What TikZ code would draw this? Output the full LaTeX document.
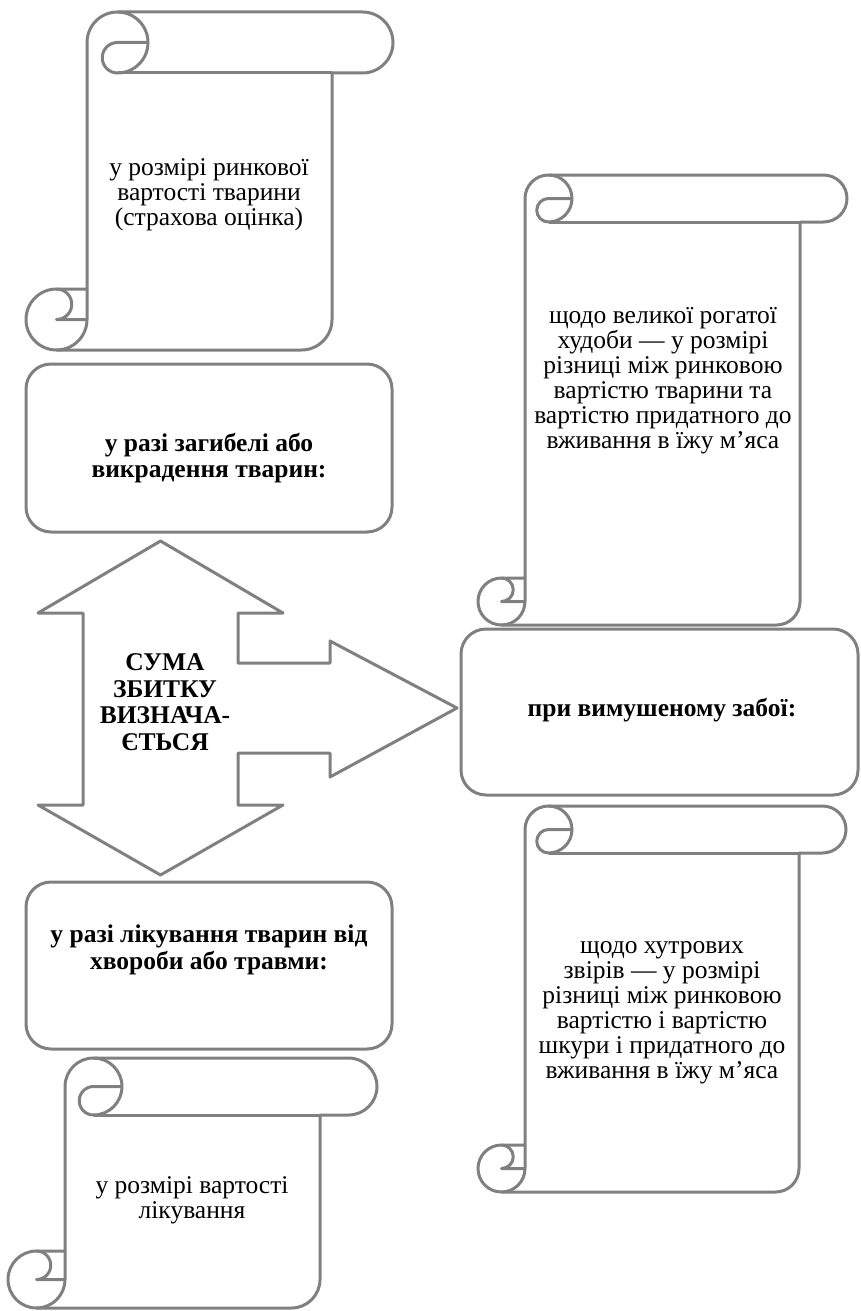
\documentclass[tikz,border=0pt]{standalone}
\usepackage{fontspec}
\setmainfont{Liberation Serif}

\newcommand{\diagfont}{\fontsize{25.5}{25}\selectfont}
\newcommand{\diagboldfont}{\fontsize{25.5}{26.6}\selectfont\bfseries}
% scroll: left, top, right, bottom, curl radius
\newcommand{\drawscroll}[5]{%
  \draw[scrollline, fill=white] ({#1+2*#5},{#4-2*#5}) -- ({#1+2*#5},{#2+#5})
    arc[start angle=180, end angle=270, radius=#5] -- ({#3-#5},#2)
    arc[start angle=270, end angle=450, radius=#5] -- ({#3-2*#5},{#2+2*#5})
    -- ({#3-2*#5},{#4-#5}) arc[start angle=0, end angle=90, radius=#5]
    -- ({#1+#5},#4) arc[start angle=90, end angle=270, radius=#5] -- cycle;
  \draw[scrollline] ({#1+3*#5},#2) arc[start angle=270, end angle=450, radius=#5]
    arc[start angle=90, end angle=270, radius={#5/2}] -- ({#1+4*#5},{#2+#5});
  \draw[scrollline] ({#3-2*#5},{#2+2*#5}) -- ({#1+3*#5},{#2+2*#5});
  \draw[scrollline] ({#1+#5},{#4-2*#5}) arc[start angle=270, end angle=450, radius={#5/2}]
    -- ({#1+2*#5},{#4-#5});
  \draw[scrollline] ({#1+#5},#4) arc[start angle=90, end angle=0, radius=#5]
    -- ({#1+2*#5},{#4-2*#5});
}

\tikzset{
  scrollline/.style={draw=gray, line width=3pt, line join=round},
  card/.style={scrollline, rounded corners=25pt, fill=white},
  cardtext/.style={font=\diagboldfont, align=center},
  scrolltext/.style={font=\diagfont, align=center},
}

\begin{document}
\begin{tikzpicture}[x=1pt, y=-1pt]
  \useasboundingbox (0,0) rectangle (861,1311);
  %\draw [help lines, step=50] (0,0) grid (861,1311);

  % scrolls
  \drawscroll{26}{12}{393}{350}{30.5}
  \node[scrolltext] (marketvalue) at (209,195) {у розмірі ринкової\\вартості тварини\\(страхова оцінка)};
  \drawscroll{478}{175}{847}{625}{23.5}
  \node[scrolltext] (cattle) at (663,381) {щодо великої рогатої\\худоби — у розмірі\\різниці між ринковою\\вартістю тварини та\\вартістю придатного до\\вживання в їжу м’яса};
  \drawscroll{478}{806}{846}{1192}{23.5}
  \node[scrolltext] (furanimals) at (662,1013) {щодо хутрових\\звірів — у розмірі\\різниці між ринковою\\вартістю і вартістю\\шкури і придатного до\\вживання в їжу м’яса};
  \drawscroll{8}{1058}{377}{1308}{28.5}
  \node[scrolltext] (treatcost) at (192,1200) {у розмірі вартості\\лікування};

  % boxes
  \node[card, minimum width=366, minimum height=168] (death) at (209,448) {};
  \node[cardtext] (deathtext) at (209,458) {у разі загибелі або\\викрадення тварин:};
  \node[card, minimum width=397, minimum height=166] (slaughter) at (659.5,712) {};
  \node[cardtext] (slaughtertext) at (662,710) {при вимушеному забої:};
  \node[card, minimum width=366, minimum height=167] (treatment) at (209,965.5) {};
  \node[cardtext] (treatmenttext) at (209,950) {у разі лікування тварин від\\хвороби або травми:};

  % arrow
  \draw[scrollline, fill=white] (160.5,541) -- (283,613) -- (238,613) -- (238,663) -- (330,663)
    -- (330,641) -- (457,708) -- (330,777) -- (330,753) -- (238,753) -- (238,805) -- (283,805)
    -- (160.5,875) -- (38,805) -- (83,805) -- (83,613) -- (38,613) -- cycle;
  \node[cardtext] (amount) at (165,702) {СУМА\\ЗБИТКУ\\ВИЗНАЧА-\\ЄТЬСЯ};
\end{tikzpicture}
\end{document}
